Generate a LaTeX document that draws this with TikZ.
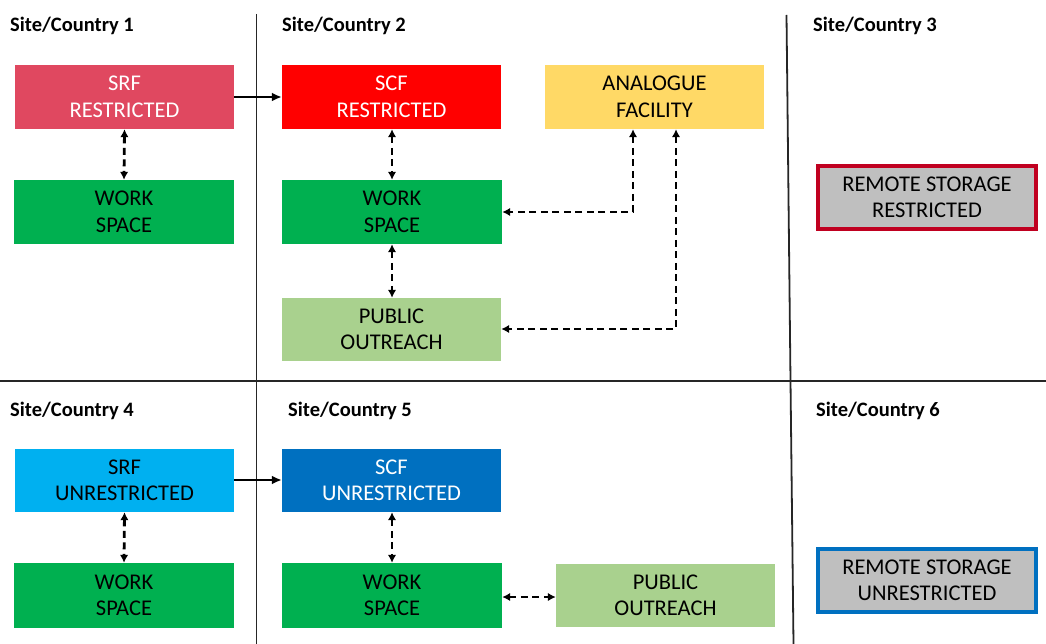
\documentclass[tikz,border=0pt]{standalone}
\usepackage{fontspec}
\setmainfont{Carlito}
\usetikzlibrary{arrows.meta}
\definecolor{srfred}{RGB}{224,72,96}
\definecolor{scfred}{RGB}{255,0,0}
\definecolor{workgreen}{RGB}{0,176,80}
\definecolor{analogue}{RGB}{255,217,102}
\definecolor{outreach}{RGB}{169,209,142}
\definecolor{srfblue}{RGB}{0,176,240}
\definecolor{scfblue}{RGB}{0,112,192}
\definecolor{storegrey}{RGB}{191,191,191}
\definecolor{storered}{RGB}{192,0,32}
\begin{document}
\begin{tikzpicture}[x=1pt,y=-1pt,
  box/.style={rectangle, inner sep=0pt, align=center, text=black,
    font=\fontsize{22.5}{26.5}\selectfont, minimum width=219pt, minimum height=64pt},
  storebox/.style={box, fill=storegrey, line width=3.5pt, minimum width=218pt, minimum height=63pt},
  site/.style={anchor=west, inner sep=0pt, font=\bfseries\fontsize{20.5}{23}\selectfont},
  divider/.style={line width=1.8pt, black!85},
  flow/.style={line width=2.6pt, -{Latex[length=10pt,width=9pt]}},
  link/.style={line width=2.8pt, dash pattern=on 7pt off 4.5pt,
    {Latex[length=8pt,width=8.5pt]}-{Latex[length=8pt,width=8.5pt]}}]
\useasboundingbox (0,0) rectangle (1046,644);

% grid of sites
\draw[divider] (0,381) -- (1046,381);
\draw[divider] (256.5,14) -- (256.5,644);
\draw[divider] (786.5,15) -- (790.5,381);
\draw[divider] (790.5,381) -- (793.5,644);

% site headings
\node[site] (h1) at (10,26) {Site/Country 1};
\node[site] (h2) at (282,26) {Site/Country 2};
\node[site] (h3) at (813,26) {Site/Country 3};
\node[site] (h4) at (10,411) {Site/Country 4};
\node[site] (h5) at (288,411) {Site/Country 5};
\node[site] (h6) at (816,411) {Site/Country 6};

% restricted facilities
\node[box, fill=srfred, text=white] (srfR) at (124.5,97) {SRF\\RESTRICTED};
\node[box, fill=workgreen, minimum width=220pt] (ws1) at (124,212) {WORK\\SPACE};
\node[box, fill=scfred, text=white] (scfR) at (391.5,97) {SCF\\RESTRICTED};
\node[box, fill=workgreen, minimum width=220pt] (ws2) at (392,212) {WORK\\SPACE};
\node[box, fill=analogue] (ana) at (654.5,97) {ANALOGUE\\FACILITY};
\node[box, fill=outreach, minimum height=63pt] (po1) at (391.5,329.5) {PUBLIC\\OUTREACH};
\node[storebox, draw=storered] (rsR) at (927,197.5) {REMOTE STORAGE\\RESTRICTED};

% unrestricted facilities
\node[box, fill=srfblue, minimum height=63pt] (srfU) at (124.5,480.5) {SRF\\UNRESTRICTED};
\node[box, fill=workgreen, minimum width=220pt, minimum height=65pt] (ws4) at (124,595.5) {WORK\\SPACE};
\node[box, fill=scfblue, text=white, minimum height=63pt] (scfU) at (391.5,480.5) {SCF\\UNRESTRICTED};
\node[box, fill=workgreen, minimum width=220pt, minimum height=65pt] (ws5) at (392,595.5) {WORK\\SPACE};
\node[box, fill=outreach, minimum height=63pt] (po2) at (665.5,595.5) {PUBLIC\\OUTREACH};
\node[storebox, draw=scfblue] (rsU) at (927,580.5) {REMOTE STORAGE\\UNRESTRICTED};

% transfers between sites
\draw[flow] (srfR.east |- 0,97) -- (scfR.west |- 0,97);
\draw[flow] (srfU.east |- 0,480) -- (scfU.west |- 0,480);

% links within sites
\draw[link] (srfR.south) -- (ws1.north);
\draw[link] (scfR.south -| ws2.north) -- (ws2.north);
\draw[link] (ws2.south) -- (po1.north -| ws2.south);
\draw[link] (srfU.south) -- (ws4.north);
\draw[link] (scfU.south -| ws5.north) -- (ws5.north);
\draw[link] (ws5.east |- 0,597) -- (po2.west |- 0,597);

% analogue facility links
\coordinate (c1) at (633,212);
\coordinate (c2) at (676,329);
\draw[link] (ana.south -| c1) -- (c1) -- (ws2.east |- c1);
\draw[link] (ana.south -| c2) -- (c2) -- (po1.east |- c2);
\end{tikzpicture}
\end{document}
